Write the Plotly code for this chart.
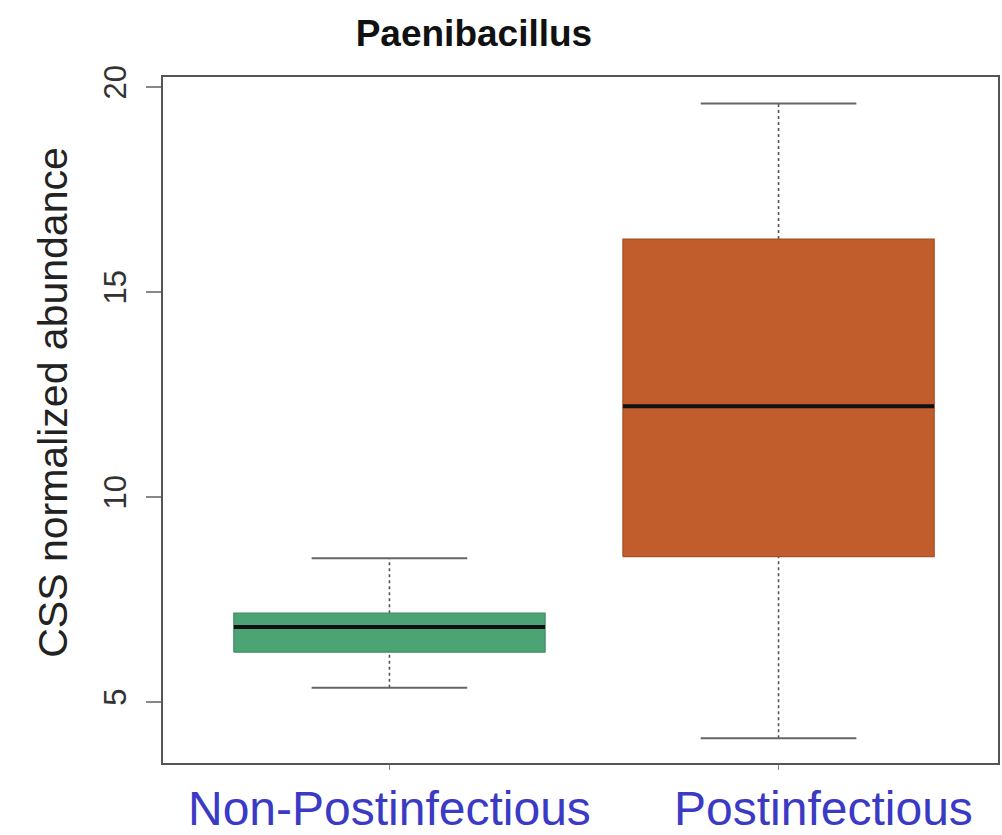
import plotly.graph_objects as go

# ---- data ----
categories = ["Non-Postinfectious", "Postinfectious"]
positions = [1, 2]
lower_whisker = [5.34, 4.11]
q1 = [6.21, 8.54]
median = [6.82, 12.21]
q3 = [7.16, 16.29]
upper_whisker = [8.50, 19.60]
fill_colors = ["#4ca474", "#c15c2c"]
edge_colors = ["#3f8a60", "#a84e24"]
y_ticks = [5, 10, 15, 20]

BOX_HALF = 0.40
CAP_HALF = 0.20
FONT = "Liberation Sans, Arial, Helvetica, sans-serif"

fig = go.Figure()

for i, cat in enumerate(categories):
    c = positions[i]
    # dotted whiskers
    fig.add_trace(go.Scatter(
        x=[c, c, None, c, c],
        y=[q3[i], upper_whisker[i], None, lower_whisker[i], q1[i]],
        mode="lines", line=dict(color="#555555", width=1.6, dash="dot"),
        hoverinfo="skip", showlegend=False))
    # whisker caps
    fig.add_trace(go.Scatter(
        x=[c - CAP_HALF, c + CAP_HALF, None, c - CAP_HALF, c + CAP_HALF],
        y=[upper_whisker[i], upper_whisker[i], None, lower_whisker[i], lower_whisker[i]],
        mode="lines", line=dict(color="#666666", width=2),
        hoverinfo="skip", showlegend=False))
    # box body
    fig.add_trace(go.Scatter(
        x=[c - BOX_HALF, c + BOX_HALF, c + BOX_HALF, c - BOX_HALF, c - BOX_HALF],
        y=[q1[i], q1[i], q3[i], q3[i], q1[i]],
        mode="lines", fill="toself", fillcolor=fill_colors[i],
        line=dict(color=edge_colors[i], width=1.2),
        name=cat, showlegend=False))
    # median
    fig.add_trace(go.Scatter(
        x=[c - BOX_HALF, c + BOX_HALF],
        y=[median[i], median[i]],
        mode="lines", line=dict(color="#111111", width=4),
        hoverinfo="skip", showlegend=False))

# category labels (blue, below axis)
label_x = [1.0, 2.115]
for lx, cat in zip(label_x, categories):
    fig.add_annotation(x=lx, xref="x", y=-0.067, yref="paper",
                       text=cat, showarrow=False, xanchor="center", yanchor="middle",
                       font=dict(family=FONT, size=48, color="#3a3ac4"))

# y-axis title
fig.add_annotation(x=-0.131, xref="paper", y=0.526, yref="paper",
                   text="CSS normalized abundance", textangle=-90, showarrow=False,
                   xanchor="center", yanchor="middle",
                   font=dict(family=FONT, size=41, color="#222222"))

fig.update_layout(
    width=1002, height=835,
    margin=dict(l=163, r=2, t=77, b=72),
    paper_bgcolor="white", plot_bgcolor="white",
    title=dict(text="<b>Paenibacillus</b>", x=0.473, y=0.9605,
               xanchor="center", yanchor="middle",
               font=dict(family=FONT, size=37, color="#111111")),
    font=dict(family=FONT),
)

fig.update_xaxes(
    range=[0.418, 2.564], tickvals=positions, ticktext=["", ""],
    ticks="outside", ticklen=5, tickcolor="#888888", tickwidth=1,
    showgrid=False, zeroline=False,
    showline=True, linecolor="#555555", linewidth=2, mirror=True,
)
fig.update_yaxes(
    range=[3.504, 20.244], tickvals=y_ticks,
    ticks="outside", ticklen=15, tickcolor="#888888", tickwidth=1.5,
    tickangle=-90, tickfont=dict(family=FONT, size=31, color="#333333"),
    ticklabelstandoff=8,
    showgrid=False, zeroline=False,
    showline=True, linecolor="#555555", linewidth=2, mirror=True,
)

fig.write_html("out.html")
